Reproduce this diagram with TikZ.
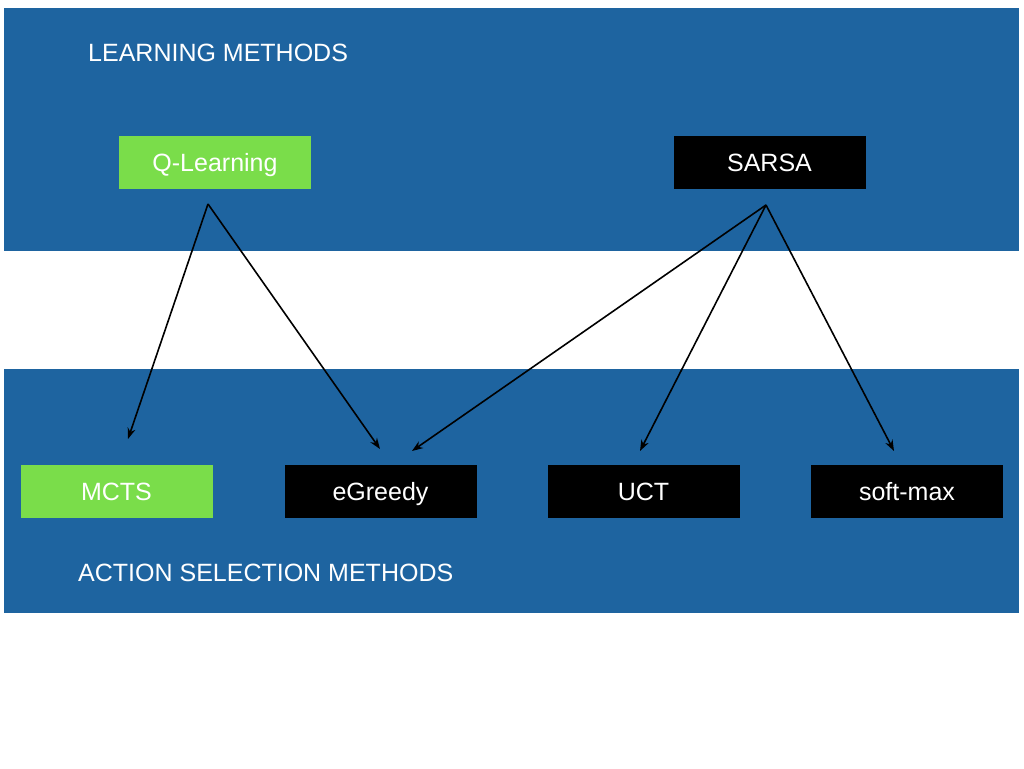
\documentclass[tikz,border=0pt]{standalone}
\usepackage{fontspec}
\setmainfont{Liberation Sans}
\usetikzlibrary{arrows.meta}
\definecolor{bandblue}{RGB}{30,100,160}
\definecolor{boxgreen}{RGB}{122,221,74}
\tikzset{
  boxfont/.style={font=\fontsize{25}{28}\selectfont},
  band/.style={fill=bandblue, draw=none},
  greenbox/.style={boxfont, fill=boxgreen, draw=none, text=white, minimum width=192pt, minimum height=53pt, inner sep=0pt, text height=18pt, text depth=0pt},
  blackbox/.style={boxfont, fill=black, draw=none, text=white, minimum width=192pt, minimum height=53pt, inner sep=0pt, text height=18pt, text depth=0pt},
  title/.style={boxfont, text=white, anchor=base west, inner sep=0pt},
  link/.style={draw=black, line width=1.6pt, -{Stealth[length=11pt,width=8pt]}}
}
\begin{document}
\begin{tikzpicture}[x=1pt,y=-1pt]
\useasboundingbox (0,0) rectangle (1024,768);
\fill[white] (0,0) rectangle (1024,768);
\path[band] (4,8) rectangle (1019,251);
\path[band] (4,369) rectangle (1019,613);
\node[title] (lm) at (88,62) {LEARNING METHODS};
\node[title] (asm) at (78,581) {ACTION SELECTION METHODS};
\node[greenbox] (q) at (215,162.5) {Q-Learning};
\node[blackbox] (s) at (769.5,162.5) {SARSA};
\node[greenbox] (mcts) at (116.5,491) {MCTS};
\node[blackbox] (eg) at (380.5,491) {eGreedy};
\node[blackbox] (uct) at (643.5,491) {UCT};
\node[blackbox] (sm) at (907,491) {soft-max};
\coordinate (qs) at (208,204);
\coordinate (ss) at (766,205);
\coordinate (mctsin) at (128,439);
\coordinate (egin1) at (380,449);
\coordinate (egin2) at (412,451);
\coordinate (uctin) at (640,451);
\coordinate (smin) at (894,451);
\draw[link] (qs) -- (mctsin);
\draw[link] (qs) -- (egin1);
\draw[link] (ss) -- (egin2);
\draw[link] (ss) -- (uctin);
\draw[link] (ss) -- (smin);
\end{tikzpicture}
\end{document}
